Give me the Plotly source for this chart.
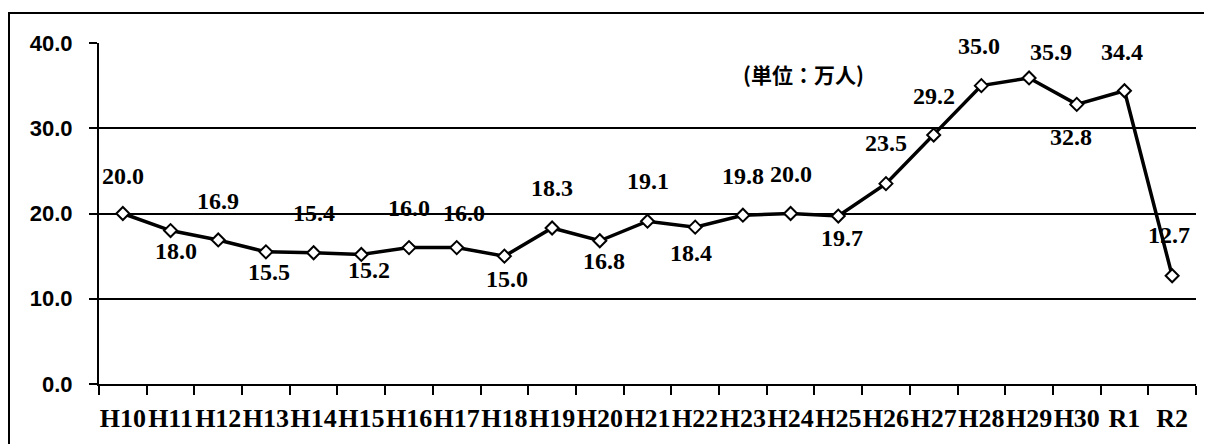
import plotly.graph_objects as go

categories = ["H10", "H11", "H12", "H13", "H14", "H15", "H16", "H17", "H18", "H19",
              "H20", "H21", "H22", "H23", "H24", "H25", "H26", "H27", "H28", "H29",
              "H30", "R1", "R2"]
values = [20.0, 18.0, 16.9, 15.5, 15.4, 15.2, 16.0, 16.0, 15.0, 18.3,
          16.8, 19.1, 18.4, 19.8, 20.0, 19.7, 23.5, 29.2, 35.0, 35.9,
          32.8, 34.4, 12.7]
y_ticks = [0, 10, 20, 30, 40]
y_tick_labels = ["0.0", "10.0", "20.0", "30.0", "40.0"]
unit_text = "(単位：万人)"

# label offsets in pixels (dx, dy; dy positive = up)
label_shift = [(0, 38), (5, -20), (0, 39), (3, -20), (0, 40), (8, -16), (0, 40), (7, 35),
               (3, -23), (0, 40), (4, -20), (0, 40), (-4, -26), (0, 39), (0, 40), (4, -22),
               (0, 41), (0, 39), (-2, 40), (22, 26), (-6, -33), (-2, 39), (-3, 41)]

# page has an 8px body margin: lay out in page coordinates minus that offset
OFF = 8
W, H = 1212 - OFF, 444 - OFF
L, T = 99 - OFF, 43 - OFF
R = W - (1196 - OFF)
B = H - (384 - OFF)
pw, ph = W - L - R, H - T - B


def px(xpage):
    return (xpage - OFF - L) / pw


def py(ypage):
    return (H - B - (ypage - OFF)) / ph


fig = go.Figure()
fig.add_trace(go.Scatter(
    x=categories, y=values, mode="lines+markers",
    line=dict(color="black", width=3.5),
    marker=dict(symbol="diamond", size=10, color="white",
                line=dict(color="black", width=2)),
    showlegend=False, hoverinfo="x+y",
))

for c, v, (dx, dy) in zip(categories, values, label_shift):
    fig.add_annotation(x=c, y=v, text=f"<b>{v:.1f}</b>", showarrow=False,
                       xshift=dx, yshift=dy, xanchor="center", yanchor="middle",
                       font=dict(family="Liberation Serif", size=24, color="black"))

fig.add_annotation(x=px(804), y=py(74), xref="paper", yref="paper",
                   text=f"<b>{unit_text}</b>", showarrow=False,
                   xanchor="center", yanchor="middle",
                   font=dict(family="Noto Sans CJK JP", size=21, color="black"))

# outer frame (top and left visible)
fig.add_shape(type="rect", xref="paper", yref="paper",
              x0=px(9), x1=px(1230), y0=py(460), y1=py(13),
              line=dict(color="black", width=2), fillcolor="rgba(0,0,0,0)")

fig.update_layout(
    width=W, height=H,
    margin=dict(l=L, r=R, t=T, b=B, pad=0, autoexpand=False),
    paper_bgcolor="white", plot_bgcolor="white",
    xaxis=dict(
        type="category", tickson="boundaries", ticks="outside", ticklen=9,
        tickwidth=2, tickcolor="black", showline=True, linecolor="black", linewidth=2,
        showgrid=False, tickangle=0, ticklabelstandoff=10, automargin=False,
        tickfont=dict(family="Liberation Serif", size=26, color="black", weight="bold"),
        range=[-0.5, len(categories) - 0.5],
    ),
    yaxis=dict(
        range=[0, 40], tickmode="array", tickvals=y_ticks, ticktext=y_tick_labels,
        ticks="outside", ticklen=8, tickwidth=2, tickcolor="black",
        showline=True, linecolor="black", linewidth=2, automargin=False,
        showgrid=True, gridcolor="black", gridwidth=2, zeroline=False,
        ticklabelstandoff=12,
        tickfont=dict(family="Liberation Sans", size=22, color="black", weight="bold"),
    ),
)

fig.write_html("out.html")
